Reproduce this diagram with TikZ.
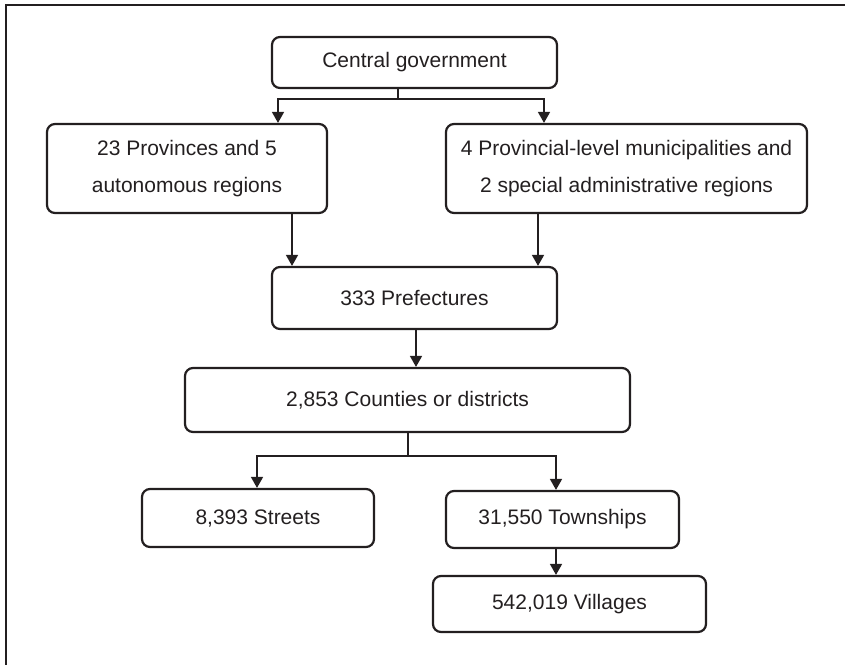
\documentclass[tikz,border=0pt]{standalone}
\usepackage{fontspec}
\setmainfont{Liberation Sans}
\usetikzlibrary{positioning, calc, arrows.meta}
\definecolor{inkgray}{RGB}{35,31,32}
\tikzset{
    basebox/.style={
        draw=inkgray,
        text=inkgray,
        align=center,
        rounded corners=8pt,
        line width=2.2pt,
        font=\fontsize{21}{37}\selectfont,
        inner sep=0pt
    },
    levelbox/.style={basebox, minimum width=#1},
    myarrow/.style={-{Triangle[length=11pt, width=12pt]}, line width=1.6pt, draw=inkgray},
    myline/.style={line width=1.6pt, draw=inkgray},
    frameline/.style={line width=2.2pt, draw=inkgray}
}

\begin{document}
\begin{tikzpicture}[x=1pt, y=-1pt]

    \useasboundingbox (0,0) rectangle (845,665);

    % Marco (solo arriba e izquierda)
    \draw[frameline] (845,5) -- (6,5) -- (6,665);

    % 1. Nivel central
    \node[levelbox=285pt, minimum height=51pt] (central) at (414.5, 62.5) {Central government};

    % 2. Nivel provincial
    \node[levelbox=280pt, minimum height=89pt] (provinces) at (187, 168.5) {23 Provinces and 5 \\ autonomous regions};
    \node[levelbox=361pt, minimum height=89pt] (municipal) at (626.5, 168.5) {4 Provincial-level municipalities and \\ 2 special administrative regions};

    % 3. Prefecturas y condados
    \node[levelbox=285pt, minimum height=62pt] (prefectures) at (414.5, 298) {333 Prefectures};
    \node[levelbox=445pt, minimum height=64pt] (counties) at (407.5, 400) {2,853 Counties or districts};

    % 4. Nivel local
    \node[levelbox=232pt, minimum height=58pt] (streets) at (258, 518) {8,393 Streets};
    \node[levelbox=233pt, minimum height=57pt] (townships) at (562.5, 519.5) {31,550 Townships};
    \node[levelbox=273pt, minimum height=56pt] (villages) at (569.5, 604) {542,019 Villages};

    % Puntos de bifurcacion
    \coordinate (cgfork) at (398, 99);
    \coordinate (ctfork) at (408, 456);

    % ==========================================
    % Conexiones (Flechas)
    % ==========================================

    % Central a provincias
    \draw[myline] (cgfork |- central.south) -- (cgfork);
    \draw[myarrow] (cgfork) -| ([xshift=91pt]provinces.north);
    \draw[myarrow] (cgfork) -| ([xshift=-82.5pt]municipal.north);

    % Provincias a prefecturas
    \draw[myarrow] ([xshift=105pt]provinces.south) -- ([xshift=-122.5pt]prefectures.north);
    \draw[myarrow] ([xshift=-88.5pt]municipal.south) -- ([xshift=123.5pt]prefectures.north);

    % Prefecturas a condados
    \draw[myarrow] ([xshift=1.5pt]prefectures.south) -- ([xshift=1.5pt]prefectures.south |- counties.north);

    % Condados a calles y municipios
    \draw[myline] (ctfork |- counties.south) -- (ctfork);
    \draw[myarrow] (ctfork) -| ([xshift=-1pt]streets.north);
    \draw[myarrow] (ctfork) -| ([xshift=-6.5pt]townships.north);

    % Municipios a aldeas
    \draw[myarrow] ([xshift=-6.5pt]townships.south) -- ([xshift=-13.5pt]villages.north);

\end{tikzpicture}
\end{document}
